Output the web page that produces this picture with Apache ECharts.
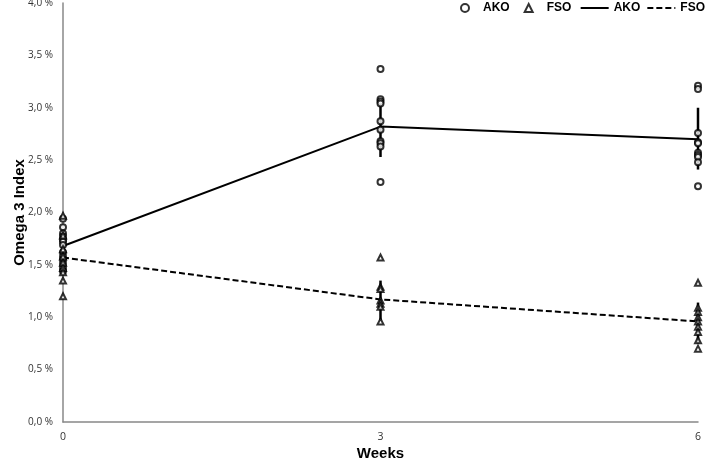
<!DOCTYPE html>
<html>
<head>
<meta charset="utf-8">
<script src="https://cdn.jsdelivr.net/npm/echarts@6/dist/echarts.min.js"></script>
<style>
  html, body { margin: 0; padding: 0; background: #fff; }
  #chart { width: 709px; height: 460px; }
</style>
</head>
<body>
<div id="chart"></div>
<script>
// weeks on the x axis
const weeks = [0, 3, 6];
// group means (lines)
const akoMean = [1.68, 2.82, 2.70];
const fsoMean = [1.57, 1.17, 0.96];
// error bar ranges [low, high]
const akoErr = [[1.60, 1.76], [2.53, 3.08], [2.41, 3.00]];
const fsoErr = [[1.48, 1.66], [0.97, 1.35], [0.75, 1.14]];
// individual values per week
const akoWeek0 = [1.94, 1.86, 1.80, 1.77, 1.74, 1.72, 1.69, 1.62, 1.58, 1.55, 1.51, 1.47, 1.44];
const akoWeek3 = [3.37, 3.08, 3.06, 3.04, 2.87, 2.79, 2.68, 2.66, 2.63, 2.29];
const akoWeek6 = [3.21, 3.18, 2.76, 2.67, 2.66, 2.57, 2.55, 2.53, 2.48, 2.25];
const fsoWeek0 = [1.97, 1.78, 1.65, 1.58, 1.52, 1.47, 1.43, 1.35, 1.20];
const fsoWeek3 = [1.57, 1.29, 1.27, 1.16, 1.13, 1.10, 0.96];
const fsoWeek6 = [1.33, 1.09, 1.05, 1.00, 0.96, 0.91, 0.86, 0.78, 0.70];

function pts(groups) {
  let out = [];
  groups.forEach((vals, i) => vals.forEach(v => out.push([weeks[i], v])));
  return out;
}
function errData(ranges) {
  return ranges.map((r, i) => [weeks[i], r[0], r[1]]);
}
function renderErr(params, api) {
  const a = api.coord([api.value(0), api.value(1)]);
  const b = api.coord([api.value(0), api.value(2)]);
  return {
    type: "line",
    shape: { x1: a[0], y1: a[1], x2: b[0], y2: b[1] },
    style: { stroke: "#000", lineWidth: 2.5 }
  };
}

const legendText = { fontFamily: "Liberation Sans", fontWeight: "bold", fontSize: 12, color: "#000" };

let mcharts = echarts.init(document.querySelector("#chart"));

let option = {
  animation: false,
  legend: [
    {
      top: 2,
      left: 460,
      padding: 0,
      itemGap: 14,
      itemWidth: 8,
      itemHeight: 8,
      textStyle: Object.assign({ padding: [0, 0, 0, 9] }, legendText),
      data: [
        { name: "AKO", icon: "emptyCircle" },
        { name: "FSO", icon: "emptyTriangle" }
      ]
    },
    {
      top: 2,
      right: 4,
      padding: 0,
      itemGap: 6,
      itemWidth: 28,
      itemHeight: 8,
      width: 200,
      textStyle: legendText,
      itemStyle: { opacity: 0 },
      formatter: (name) => name.trim(),
      data: [{ name: "AKO " }, { name: "FSO " }]
    }
  ],
  grid: { left: 63, right: 11, top: 3, bottom: 38, outerBoundsMode: "none" },
  xAxis: {
    type: "value",
    min: 0,
    max: 6,
    interval: 3,
    name: "Weeks",
    nameLocation: "middle",
    nameGap: 24,
    nameMoveOverlap: false,
    nameTextStyle: { fontFamily: "Liberation Sans", fontWeight: "bold", fontSize: 15, color: "#000" },
    axisLine: { lineStyle: { color: "#888", width: 1.5 } },
    axisTick: { show: false },
    splitLine: { show: false },
    axisLabel: { color: "#333", fontSize: 10.5, fontFamily: "Open Sans", margin: 10 }
  },
  yAxis: {
    type: "value",
    min: 0,
    max: 4,
    interval: 0.5,
    name: "Omega 3 Index",
    nameLocation: "middle",
    nameGap: 36,
    nameMoveOverlap: false,
    nameTextStyle: { fontFamily: "Liberation Sans", fontWeight: "bold", fontSize: 15, color: "#000" },
    axisLine: { show: true, lineStyle: { color: "#888", width: 1.5 } },
    axisTick: { show: false },
    splitLine: { show: false },
    axisLabel: {
      color: "#333", fontSize: 10, fontFamily: "Open Sans", margin: 10,
      formatter: (v) => v.toFixed(1).replace(".", ",") + " %"
    }
  },
  series: [
    {
      name: "AKO",
      type: "scatter",
      symbol: "emptyCircle",
      symbolSize: 6,
      itemStyle: { color: "#000", borderColor: "#000", borderWidth: 1 },
      data: pts([akoWeek0, akoWeek3, akoWeek6]),
      z: 3
    },
    {
      name: "FSO",
      type: "scatter",
      symbol: "emptyTriangle",
      symbolSize: 6,
      itemStyle: { color: "#000", borderColor: "#000", borderWidth: 1 },
      data: pts([fsoWeek0, fsoWeek3, fsoWeek6]),
      z: 3
    },
    {
      name: "AKO ",
      type: "line",
      symbol: "none",
      lineStyle: { color: "#000", width: 2 },
      itemStyle: { color: "#000" },
      data: weeks.map((w, i) => [w, akoMean[i]]),
      z: 2
    },
    {
      name: "FSO ",
      type: "line",
      symbol: "none",
      lineStyle: { color: "#000", width: 2, type: [6, 3] },
      itemStyle: { color: "#000" },
      data: weeks.map((w, i) => [w, fsoMean[i]]),
      z: 2
    },
    {
      type: "custom",
      renderItem: renderErr,
      data: errData(akoErr),
      z: 2
    },
    {
      type: "custom",
      renderItem: renderErr,
      data: errData(fsoErr),
      z: 2
    }
  ]
};

mcharts.setOption(option);
</script>
</body>
</html>
